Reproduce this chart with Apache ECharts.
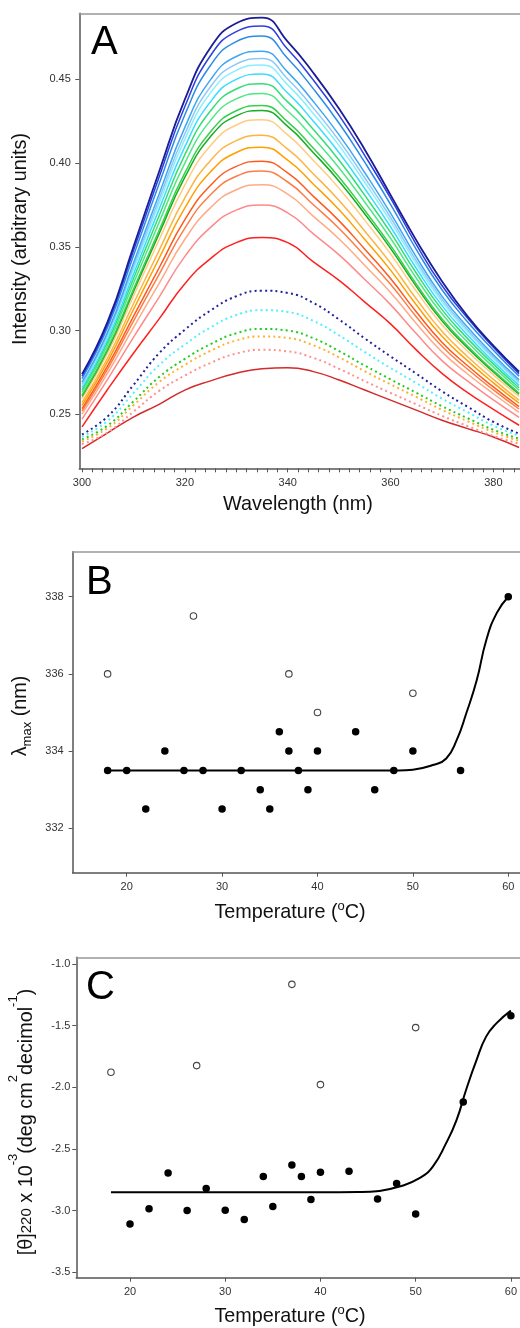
<!DOCTYPE html>
<html><head><meta charset="utf-8">
<script src="https://cdn.jsdelivr.net/npm/echarts@6/dist/echarts.min.js"></script>
<style>html,body{margin:0;padding:0;background:#fff}#c{width:520px;height:1328px}</style>
</head><body><div id="c"></div>
<script>
// ---------- Panel A data ----------
const wavelengths = [300,305,310,315,320,325,330,335,340,345,350,355,360,365,370,375,380,385];
const spec01 = [0.274,0.3055,0.350,0.395,0.438,0.469,0.4835,0.4868,0.4725,0.4538,0.4324,0.408,0.381,0.354,0.3295,0.3085,0.291,0.2755];
const spec02 = [0.2728,0.304,0.3476,0.3917,0.4338,0.4642,0.4785,0.4818,0.4679,0.4495,0.4285,0.4045,0.379,0.3515,0.3269,0.3073,0.29,0.2743];
const spec03 = [0.2714,0.3021,0.3447,0.3876,0.4288,0.4584,0.4725,0.4758,0.4624,0.4443,0.4238,0.4004,0.3754,0.3485,0.3244,0.3051,0.2883,0.2728];
const spec04 = [0.2692,0.2993,0.3403,0.3816,0.4213,0.4498,0.4636,0.4668,0.4543,0.4367,0.4168,0.3942,0.3701,0.344,0.3206,0.302,0.2856,0.2706];
const spec05 = [0.2681,0.298,0.3382,0.3786,0.4175,0.4456,0.4591,0.4624,0.4502,0.4328,0.4134,0.3911,0.3675,0.3418,0.3188,0.3004,0.2843,0.2695];
const spec06 = [0.2672,0.2968,0.3363,0.3761,0.4143,0.4419,0.4553,0.4586,0.4467,0.4295,0.4104,0.3884,0.3652,0.3399,0.3172,0.2991,0.2832,0.2686];
const spec07 = [0.2659,0.2951,0.3337,0.3725,0.4098,0.4367,0.45,0.4532,0.4418,0.4249,0.4062,0.3847,0.362,0.3372,0.3149,0.2972,0.2816,0.2673];
const spec08 = [0.2646,0.2934,0.331,0.3686,0.405,0.4312,0.4442,0.4474,0.4365,0.42,0.4017,0.3807,0.3586,0.3344,0.3125,0.2952,0.28,0.2659];
const spec09 = [0.2631,0.2915,0.3281,0.3646,0.4,0.4255,0.4383,0.4415,0.4311,0.4149,0.3971,0.3766,0.3551,0.3314,0.31,0.2931,0.2782,0.2645];
const spec10 = [0.2614,0.2893,0.3247,0.3599,0.3941,0.4187,0.4312,0.4344,0.4246,0.4088,0.3915,0.3717,0.3509,0.3279,0.3071,0.2906,0.2761,0.2627];
const spec11 = [0.2607,0.2884,0.3232,0.3579,0.3916,0.4158,0.4282,0.4314,0.4219,0.4062,0.3892,0.3696,0.3491,0.3264,0.3058,0.2896,0.2753,0.262];
const spec12 = [0.2594,0.2867,0.3205,0.3542,0.387,0.4105,0.4227,0.4259,0.4168,0.4015,0.3849,0.3658,0.3458,0.3236,0.3035,0.2877,0.2736,0.2607];
const spec13 = [0.2571,0.2838,0.316,0.3479,0.3792,0.4016,0.4134,0.4166,0.4083,0.3935,0.3776,0.3593,0.3403,0.319,0.2996,0.2844,0.2709,0.2584];
const spec14 = [0.2554,0.2816,0.3126,0.3432,0.3732,0.3948,0.4063,0.4095,0.4018,0.3874,0.3721,0.3544,0.3361,0.3154,0.2966,0.2819,0.2688,0.2567];
const spec15 = [0.2534,0.2791,0.3085,0.3375,0.3662,0.3867,0.398,0.4011,0.3941,0.3801,0.3655,0.3486,0.3311,0.3112,0.2931,0.279,0.2664,0.2546];
const spec16 = [0.252,0.2772,0.3057,0.3336,0.3612,0.3811,0.3921,0.3952,0.3887,0.3751,0.3609,0.3445,0.3276,0.3083,0.2906,0.2769,0.2646,0.2532];
const spec17 = [0.2501,0.2748,0.3018,0.3282,0.3545,0.3734,0.3841,0.3871,0.3814,0.3682,0.3547,0.3389,0.3228,0.3043,0.2873,0.2741,0.2623,0.2512];
const spec18 = [0.2472,0.271,0.2959,0.32,0.3443,0.3616,0.3719,0.3749,0.3703,0.3577,0.3452,0.3305,0.3155,0.2982,0.2821,0.2698,0.2587,0.2482];
const spec19 = [0.2425,0.265,0.2865,0.307,0.328,0.343,0.3525,0.3555,0.3525,0.341,0.330,0.317,0.304,0.2885,0.2745,0.263,0.253,0.2435];
const spec20 = [0.2296,0.239,0.2484,0.256,0.2645,0.270,0.2745,0.2772,0.2778,0.2755,0.2705,0.2645,0.2585,0.2525,0.2465,0.2415,0.2365,0.2302];
const dot1 = [0.238,0.2488,0.2675,0.2865,0.3005,0.312,0.3205,0.3238,0.3225,0.3165,0.3066,0.2953,0.2846,0.2743,0.2638,0.2545,0.2455,0.2385];
const dot2 = [0.2367,0.2462,0.2627,0.2794,0.2917,0.3019,0.3093,0.3122,0.3111,0.3058,0.2971,0.2872,0.2777,0.2687,0.2594,0.2513,0.2433,0.2372];
const dot3 = [0.2351,0.2434,0.2577,0.2723,0.2831,0.2919,0.2984,0.301,0.3,0.2954,0.2878,0.2791,0.2709,0.2629,0.2549,0.2477,0.2408,0.2355];
const dot4 = [0.2339,0.2418,0.2554,0.2693,0.2795,0.2879,0.2941,0.2965,0.2956,0.2912,0.284,0.2757,0.2679,0.2604,0.2527,0.2459,0.2394,0.2342];
const dot5 = [0.2322,0.2393,0.2516,0.264,0.2732,0.2807,0.2863,0.2885,0.2876,0.2837,0.2772,0.2698,0.2628,0.256,0.2491,0.243,0.2371,0.2325];
const aXLabels = [300,320,340,360,380];
const aYLabels = [0.25,0.30,0.35,0.40,0.45];

// ---------- Panel B data ----------
const bTempFilled = [18,20,22,24,26,28,30,32,34,35,36,37,38,39,40,44,46,48,50,55,60];
const bLambdaFilled = [333.5,333.5,332.5,334,333.5,333.5,332.5,333.5,333,332.5,334.5,334,333.5,333,334,334.5,333,333.5,334,333.5,338];
const bTempOpen = [18,27,37,40,50];
const bLambdaOpen = [336,337.5,336,335,335.5];
const bFitTemp = [18,30,40,46,48.5,50,52.1,53.5,54.6,55.6,56.7,57.7,58.8,60];
const bFitLambda = [333.5,333.5,333.5,333.5,333.5,333.52,333.64,333.81,334.29,334.98,335.84,336.88,337.58,338.0];
const bXLabels = [20,30,40,50,60];
const bYLabels = [332,334,336,338];

// ---------- Panel C data ----------
const cTempFilled = [20,22,24,26,28,30,32,34,35,37,38,39,40,43,46,48,50,55,60];
const cThetaFilled = [-3.108,-2.985,-2.694,-3.0,-2.82,-2.998,-3.073,-2.723,-2.966,-2.63,-2.723,-2.91,-2.689,-2.68,-2.905,-2.78,-3.027,-2.12,-1.42];
const cTempOpen = [18,27,37,40,50];
const cThetaOpen = [-1.878,-1.824,-1.165,-1.978,-1.516];
const cFitTemp = [18,30,40,44,46.2,48.3,50.4,51.8,53.2,54.3,55.3,56.4,57.4,58.5,60];
const cFitTheta = [-2.852,-2.852,-2.852,-2.85,-2.84,-2.805,-2.737,-2.643,-2.453,-2.264,-2.02,-1.778,-1.589,-1.48,-1.378];
const cXLabels = [20,30,40,50,60];
const cYLabels = [-3.5,-3.0,-2.5,-2.0,-1.5,-1.0];

// ---------- styling ----------
const solidSpectra = [spec01,spec02,spec03,spec04,spec05,spec06,spec07,spec08,spec09,spec10,spec11,spec12,spec13,spec14,spec15,spec16,spec17,spec18,spec19,spec20];
const solidColors = ['#1c1c96','#2d3fe0','#2a8ce8','#3fa6f5','#8ccaf5','#8aeeff','#38ddff','#33dd77','#4ee884','#36d04a','#18ac22','#ffcc80','#ffb340','#ffa000','#ff5a1e','#ff7d45','#ffaa88','#ff8a8a','#ff2020','#d42a2a'];
const dottedSpectra = [dot1,dot2,dot3,dot4,dot5];
const dottedColors = ['#2020a0','#55eeff','#22cc22','#ffb030','#ff9090'];

const FONT = 'Liberation Sans';
const axisCol = '#555';
const minorTicksA = [];
for (let w = 300; w <= 384; w += 2) minorTicksA.push(w);

function bottomX(gi, min, max, labels, ticks, margin) {
  return {type:'value', gridIndex:gi, position:'bottom', min:min, max:max,
    axisLine:{show:true, onZero:false, lineStyle:{color:axisCol, width:1.5}},
    axisTick:{show:true, length:4, customValues:ticks, lineStyle:{color:axisCol, width:1}},
    axisLabel:{show:true, customValues:labels, margin:margin, fontSize:11, color:'#333', fontFamily:FONT},
    splitLine:{show:false}};
}
function topX(gi, min, max) {
  return {type:'value', gridIndex:gi, position:'top', min:min, max:max,
    axisLine:{show:true, onZero:false, lineStyle:{color:'#999', width:1.5}},
    axisTick:{show:false}, axisLabel:{show:false}, splitLine:{show:false}};
}
function leftY(gi, min, max, labels, margin, fmt) {
  return {type:'value', gridIndex:gi, min:min, max:max,
    axisLine:{show:true, onZero:false, lineStyle:{color:axisCol, width:1.5}},
    axisTick:{show:true, length:4, customValues:labels, lineStyle:{color:axisCol, width:1}},
    axisLabel:{show:true, customValues:labels, margin:margin, fontSize:11, color:'#333', fontFamily:FONT, formatter:fmt},
    splitLine:{show:false}};
}

const series = [];
solidSpectra.forEach((arr, i) => {
  series.push({type:'line', xAxisIndex:0, yAxisIndex:0, name:'s'+(i+1), showSymbol:false, symbol:'none', smooth:0.5,
    data: wavelengths.map((w, k) => [w, arr[k]]),
    lineStyle:{color:solidColors[i], width:(i===0?1.8:1.5)}, z: 2 + (20 - i) * 0.01});
});
dottedSpectra.forEach((arr, i) => {
  series.push({type:'line', xAxisIndex:0, yAxisIndex:0, name:'d'+(i+1), showSymbol:false, symbol:'none', smooth:0.5,
    data: wavelengths.map((w, k) => [w, arr[k]]),
    lineStyle:{color:dottedColors[i], width:2, type:[2,3.2], cap:'butt'}});
});
const filledStyle = {color:'#000', opacity:1};
const openStyle = {color:'#fff', borderColor:'#444', borderWidth:1.1, opacity:1};
// Panel B
series.push({type:'line', xAxisIndex:2, yAxisIndex:1, showSymbol:false, symbol:'none', smooth:0.5,
  data: bFitTemp.map((t, k) => [t, bFitLambda[k]]), lineStyle:{color:'#000', width:2}});
series.push({type:'scatter', xAxisIndex:2, yAxisIndex:1, symbol:'circle', symbolSize:7.5,
  data: bTempFilled.map((t, k) => [t, bLambdaFilled[k]]), itemStyle:filledStyle, z:5});
series.push({type:'scatter', xAxisIndex:2, yAxisIndex:1, symbol:'circle', symbolSize:6.5,
  data: bTempOpen.map((t, k) => [t, bLambdaOpen[k]]), itemStyle:openStyle, z:5});
// Panel C
series.push({type:'line', xAxisIndex:4, yAxisIndex:2, showSymbol:false, symbol:'none', smooth:0.5,
  data: cFitTemp.map((t, k) => [t, cFitTheta[k]]), lineStyle:{color:'#000', width:2}});
series.push({type:'scatter', xAxisIndex:4, yAxisIndex:2, symbol:'circle', symbolSize:7.5,
  data: cTempFilled.map((t, k) => [t, cThetaFilled[k]]), itemStyle:filledStyle, z:5});
series.push({type:'scatter', xAxisIndex:4, yAxisIndex:2, symbol:'circle', symbolSize:6.5,
  data: cTempOpen.map((t, k) => [t, cThetaOpen[k]]), itemStyle:openStyle, z:5});

const titleSize = 19.8;
function txt(x, y, text, rot) {
  return {type:'text', x:x, y:y, rotation:rot||0, z:10,
    style:{text:text, fontSize:titleSize, fontFamily:FONT, fill:'#111', align:'center', verticalAlign:'middle', lineHeight:26}};
}

const option = {
  animation:false,
  backgroundColor:'#fff',
  grid:[
    {left:79.3, top:13.3, width:440.7, height:455},
    {left:72.7, top:551.7, width:447.3, height:321},
    {left:76.3, top:957.3, width:443.7, height:320.4}
  ],
  xAxis:[
    bottomX(0, 299.47, 385.18, aXLabels, minorTicksA, 9),
    topX(0, 299.47, 385.18),
    bottomX(1, 14.34, 61.23, bXLabels, bXLabels, 9),
    topX(1, 14.34, 61.23),
    bottomX(2, 14.36, 60.94, cXLabels, cXLabels, 9),
    topX(2, 14.36, 60.94)
  ],
  yAxis:[
    leftY(0, 0.2178, 0.4894, aYLabels, 8.5, v => v.toFixed(2)),
    leftY(1, 330.85, 339.166, bYLabels, 9, v => String(v)),
    leftY(2, -3.544, -0.9457, cYLabels, 6, v => v.toFixed(1))
  ],
  series: series,
  graphic:[
    {type:'text', x:91, y:43, z:10, style:{text:'A', fontSize:40, fontFamily:FONT, fill:'#000', align:'left', verticalAlign:'middle'}},
    {type:'text', x:86, y:583, z:10, style:{text:'B', fontSize:40, fontFamily:FONT, fill:'#000', align:'left', verticalAlign:'middle'}},
    {type:'text', x:86, y:988, z:10, style:{text:'C', fontSize:40, fontFamily:FONT, fill:'#000', align:'left', verticalAlign:'middle'}},
    txt(21, 239, 'Intensity (arbitrary units)', Math.PI/2),
    txt(298, 504.5, 'Wavelength (nm)', 0),
    {type:'text', x:21, y:716, rotation:Math.PI/2, z:10,
      style:{text:'{l|λ}{s|max} (nm)', fontSize:titleSize, fontFamily:FONT, fill:'#111', align:'center', verticalAlign:'middle', lineHeight:26,
        rich:{l:{fontSize:titleSize, fontFamily:FONT, lineHeight:26}, s:{fontSize:13, fontFamily:FONT, lineHeight:10, verticalAlign:'bottom'}}}},
    {type:'text', x:290, y:912.5, z:10,
      style:{text:'Temperature ({o|o}C)', fontSize:titleSize, fontFamily:FONT, fill:'#111', align:'center', verticalAlign:'middle', lineHeight:26,
        rich:{o:{fontSize:13, fontFamily:FONT, lineHeight:10, verticalAlign:'top'}}}},
    {type:'text', x:26.5, y:1122, rotation:Math.PI/2, z:10,
      style:{text:'[θ]{sub|220} x 10{sup|-3}(deg cm{sup|2}decimol{sup|-1})', fontSize:titleSize, fontFamily:FONT, fill:'#111', align:'center', verticalAlign:'middle', lineHeight:40,
        rich:{sub:{fontSize:15, fontFamily:FONT, lineHeight:40, verticalAlign:'middle'}, sup:{fontSize:13, fontFamily:FONT, lineHeight:12, verticalAlign:'top'}}}},
    {type:'text', x:290, y:1317, z:10,
      style:{text:'Temperature ({o|o}C)', fontSize:titleSize, fontFamily:FONT, fill:'#111', align:'center', verticalAlign:'middle', lineHeight:26,
        rich:{o:{fontSize:13, fontFamily:FONT, lineHeight:10, verticalAlign:'top'}}}}
  ]
};
const chart = echarts.init(document.getElementById('c'), null, {renderer:'canvas'});
chart.setOption(option);
</script></body></html>
